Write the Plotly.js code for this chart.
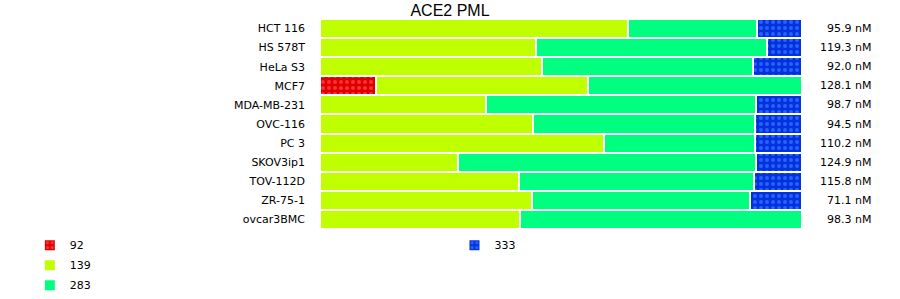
<!DOCTYPE html>
<html><head><meta charset="utf-8">
<script src="https://cdn.plot.ly/plotly-3.0.1.min.js"></script>
<style>html,body{margin:0;padding:0;background:#fff}#chart{width:900px;height:299px}</style>
</head><body><div id="chart"></div>
<script>
const cellLines = ["HCT 116","HS 578T","HeLa S3","MCF7","MDA-MB-231","OVC-116","PC 3","SKOV3ip1","TOV-112D","ZR-75-1","ovcar3BMC"];
const seriesNames = ["92","139","283","333"];
const share92  = [null, null, null, 11.7, null, null, null, null, null, null, null];
const share139 = [63.8, 44.8, 46.0, 43.8, 34.4, 44.2, 59.0, 28.7, 41.2, 44.0, 41.5];
const share283 = [26.9, 47.9, 43.8, 44.5, 56.0, 46.0, 31.2, 61.7, 48.8, 45.2, 58.5];
const share333 = [9.3, 7.3, 10.2, null, 9.6, 9.8, 9.8, 9.6, 10.0, 10.8, null];
const nMLabels = ["95.9 nM","119.3 nM","92.0 nM","128.1 nM","98.7 nM","94.5 nM","110.2 nM","124.9 nM","115.8 nM","71.1 nM","98.3 nM"];

const styles = [
  {color:"#dd0000", pattern:{shape:".", fgcolor:"#ff3030", bgcolor:"#dd0000", size:6, solidity:0.35}, legend:"legend"},
  {color:"#c0ff00", legend:"legend"},
  {color:"#00ff80", legend:"legend"},
  {color:"#0033dd", pattern:{shape:".", fgcolor:"#2a60ff", bgcolor:"#0033dd", size:6, solidity:0.35}, legend:"legend2"}
];
const shares = [share92, share139, share283, share333];

const traces = shares.map((vals, i) => {
  const m = {color: styles[i].color, line:{color:"#ffffff", width:2}};
  if (styles[i].pattern) m.pattern = styles[i].pattern;
  return {
    type:"bar", orientation:"h", name: seriesNames[i], legendgroup: "g"+i,
    y: cellLines, x: vals, marker: m, legend: styles[i].legend,
    hoverinfo:"skip"
  };
});

const annotations = cellLines.map((c, i) => ({
  xref:"paper", yref:"y", x:1, y:c, xanchor:"right", yanchor:"middle",
  xshift:71, text:nMLabels[i], showarrow:false,
  font:{family:"DejaVu Sans", size:11, color:"#000"}
}));

const layout = {
  width:900, height:299,
  margin:{l:320, r:98, t:19, b:70, pad:0, autoexpand:false},
  paper_bgcolor:"#fff", plot_bgcolor:"#fff",
  barmode:"stack", bargap:0,
  title:{text:"ACE2 PML", xref:"container", x:0.5, xanchor:"center",
         yref:"container", y:1-10/299, yanchor:"middle",
         font:{family:"Liberation Sans", size:16, color:"#000"}},
  xaxis:{range:[0,100], visible:false, fixedrange:true},
  yaxis:{autorange:"reversed", showgrid:false, zeroline:false, showline:false,
         ticks:"", ticklabelstandoff:14,
         tickfont:{family:"DejaVu Sans", size:11, color:"#000"}},
  showlegend:true,
  legend:{x:-0.602, xanchor:"left", y:-0.008, yanchor:"top", traceorder:"grouped",
          tracegroupgap:1, bgcolor:"rgba(0,0,0,0)",
          font:{family:"DejaVu Sans", size:11, color:"#000"}},
  legend2:{x:0.279, xanchor:"left", y:-0.008, yanchor:"top", traceorder:"normal",
          bgcolor:"rgba(0,0,0,0)",
          font:{family:"DejaVu Sans", size:11, color:"#000"}},
  annotations: annotations
};

Plotly.newPlot("chart", traces, layout, {displayModeBar:false, staticPlot:true});
</script></body></html>
